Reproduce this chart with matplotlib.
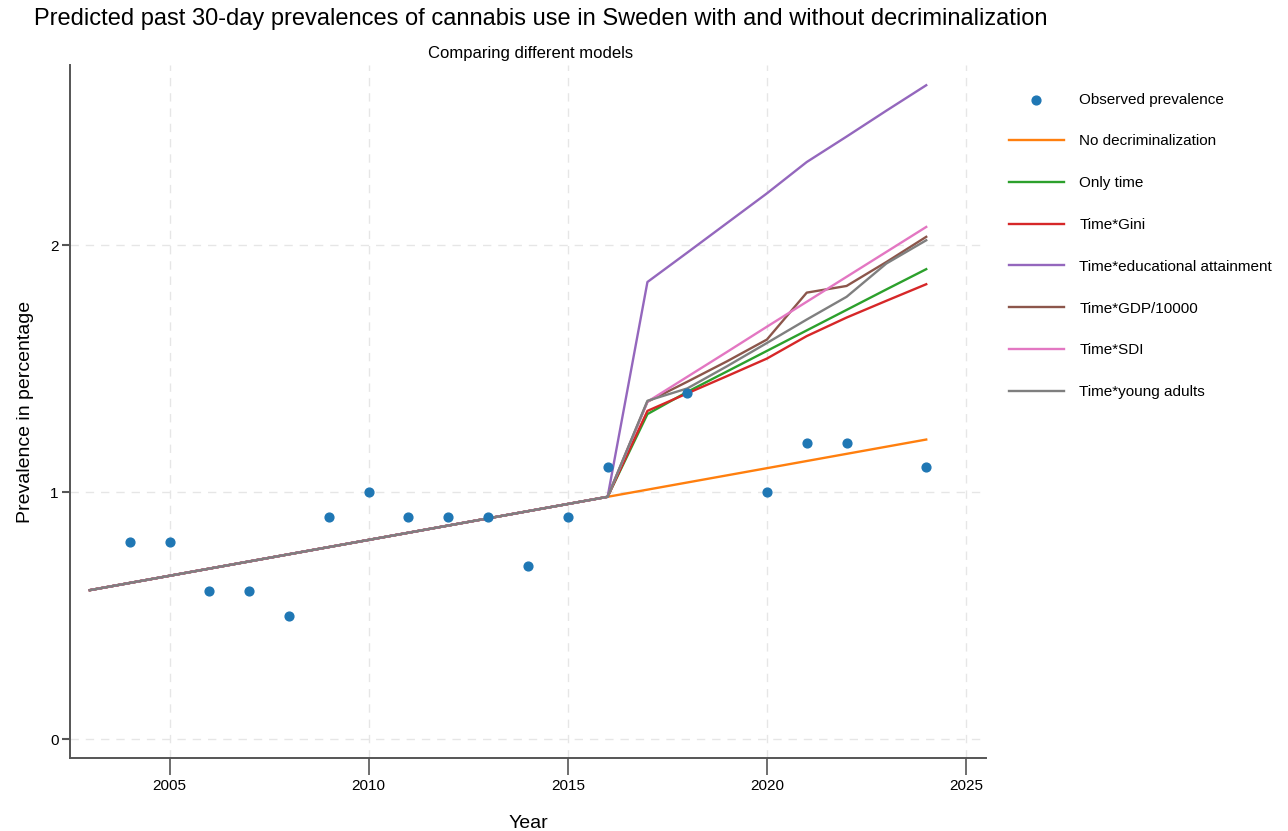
import matplotlib.pyplot as plt

plt.rcParams['font.family'] = ['Liberation Sans', 'DejaVu Sans']

# Observed prevalence (%)
obs_years = [2004, 2005, 2006, 2007, 2008, 2009, 2010, 2011, 2012, 2013, 2014,
             2015, 2016, 2018, 2020, 2021, 2022, 2024]
obs_values = [0.8, 0.8, 0.6, 0.6, 0.5, 0.9, 1.0, 0.9, 0.9, 0.9, 0.7,
              0.9, 1.1, 1.4, 1.0, 1.2, 1.2, 1.1]

# Model predictions
years = [2003, 2016, 2017, 2018, 2019, 2020, 2021, 2022, 2023, 2024]
no_decrim = [0.603, 0.981, 1.010, 1.039, 1.068, 1.097, 1.126, 1.155, 1.184, 1.213]
only_time = [0.603, 0.981, 1.316, 1.406, 1.489, 1.572, 1.655, 1.738, 1.821, 1.903]
time_gini = [0.603, 0.981, 1.329, 1.400, 1.470, 1.541, 1.632, 1.707, 1.775, 1.842]
time_edu = [0.603, 0.981, 1.851, 1.970, 2.090, 2.210, 2.337, 2.440, 2.545, 2.648]
time_gdp = [0.603, 0.981, 1.366, 1.447, 1.530, 1.618, 1.808, 1.835, 1.932, 2.034]
time_sdi = [0.603, 0.981, 1.366, 1.467, 1.568, 1.670, 1.771, 1.872, 1.973, 2.074]
time_young = [0.603, 0.981, 1.370, 1.420, 1.510, 1.604, 1.699, 1.791, 1.926, 2.020]

series = [
    ("No decriminalization", no_decrim, "tab:orange"),
    ("Only time", only_time, "tab:green"),
    ("Time*Gini", time_gini, "tab:red"),
    ("Time*educational attainment", time_edu, "tab:purple"),
    ("Time*GDP/10000", time_gdp, "tab:brown"),
    ("Time*SDI", time_sdi, "tab:pink"),
    ("Time*young adults", time_young, "tab:gray"),
]

fig = plt.figure(figsize=(12.88, 8.31), dpi=100)
ax = fig.add_axes([0.0543, 0.0878, 0.7112, 0.834])

ax.scatter(obs_years, obs_values, s=40, color="#1f77b4", zorder=5,
           label="Observed prevalence")
for label, vals, color in series:
    ax.plot(years, vals, color=color, lw=1.7, label=label)

ax.set_xlim(2002.5, 2025.5)
ax.set_ylim(-0.077, 2.73)
ax.set_xticks([2005, 2010, 2015, 2020, 2025])
ax.set_yticks([0, 1, 2])
ax.grid(True, linestyle=(0, (6, 5)), color="#e6e6e6", lw=1.0)
ax.set_axisbelow(True)

for side in ["top", "right"]:
    ax.spines[side].set_visible(False)
for side in ["left", "bottom"]:
    ax.spines[side].set_color("#555555")
    ax.spines[side].set_linewidth(1.4)
ax.tick_params(axis="x", length=12, width=1.2, color="#555555", labelsize=11, pad=3)
ax.tick_params(axis="y", length=6, width=1.5, color="#555555", labelsize=11, pad=2)

ax.set_xlabel("Year", fontsize=14, labelpad=16)
ax.set_ylabel("Prevalence in percentage", fontsize=14, labelpad=12)

fig.text(0.42, 0.99, "Predicted past 30-day prevalences of cannabis use in Sweden with and without decriminalization",
         ha="center", va="top", fontsize=17)
fig.text(0.412, 0.945, "Comparing different models", ha="center", va="top", fontsize=12)

ax.legend(loc="upper left", bbox_to_anchor=(1.01, 0.98), frameon=False,
          fontsize=11, labelspacing=1.82, handlelength=3.6, handletextpad=1.0)

fig.savefig("out.png", dpi=100)
